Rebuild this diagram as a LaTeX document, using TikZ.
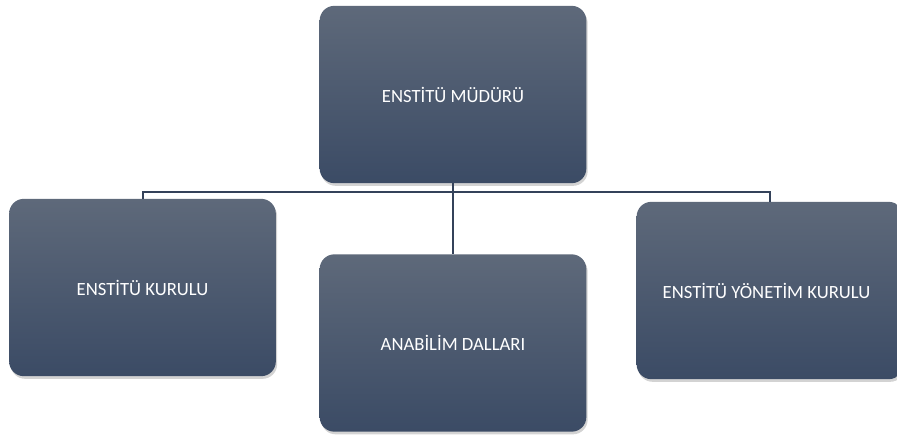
\documentclass[tikz,border=0pt]{standalone}
\usepackage{fontspec}
\setmainfont{Carlito}
\usetikzlibrary{shadows}
\definecolor{boxtop}{RGB}{94,105,122}
\definecolor{boxbot}{RGB}{59,75,101}
\definecolor{linecol}{RGB}{52,66,90}
\begin{document}
\begin{tikzpicture}[x=0.75pt,y=-0.75pt,
  orgbox/.style={rounded corners=11pt, minimum width=200pt, minimum height=133pt,
    top color=boxtop, bottom color=boxbot, text=white, font=\fontsize{14pt}{16pt}\selectfont,
    drop shadow={opacity=0.35, shadow xshift=1pt, shadow yshift=-2pt}, inner sep=0pt},
  conn/.style={draw=linecol, line width=1.5pt}]
\useasboundingbox (0,0) rectangle (897,436);
\clip (0,0) rectangle (897,436);
\node[orgbox] (top) at (453,94.5) {ENSTİTÜ MÜDÜRÜ};
\node[orgbox] (left) at (142.5,287.5) {ENSTİTÜ KURULU};
\node[orgbox] (mid) at (453,343) {ANABİLİM DALLARI};
\node[orgbox] (right) at (770,290.5) {};
\node[text=white, font=\fontsize{14pt}{16pt}\selectfont] (rtext) at (766.5,290.5) {ENSTİTÜ YÖNETİM KURULU};
\coordinate (hl) at (142.5,192);
\coordinate (hr) at (770,192);
\draw[conn] (top.south) -- (mid.north);
\draw[conn] (left.north) -- (hl) -- (hr) -- (right.north);
\end{tikzpicture}
\end{document}
